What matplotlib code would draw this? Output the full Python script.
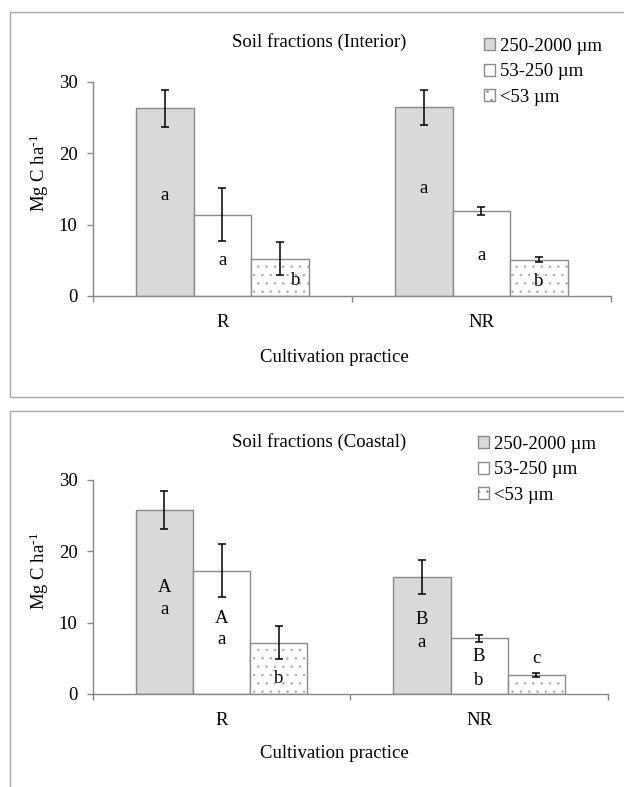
import matplotlib
matplotlib.use("Agg")
import matplotlib.pyplot as plt
import numpy as np
from matplotlib.patches import Rectangle, Patch

plt.rcParams['font.family'] = ['Liberation Serif', 'DejaVu Serif']
plt.rcParams['mathtext.fontset'] = 'custom'
plt.rcParams['mathtext.rm'] = 'Liberation Serif'
plt.rcParams['mathtext.it'] = 'Liberation Serif:italic'
plt.rcParams['hatch.linewidth'] = 0.5

# ---------------- data ----------------
categories = ["R", "NR"]
series = ["250-2000 µm", "53-250 µm", "<53 µm"]

interior_values = [[26.3, 26.4], [11.4, 11.9], [5.2, 5.1]]
interior_errors = [[2.6, 2.5], [3.75, 0.55], [2.3, 0.3]]
coastal_values = [[25.8, 16.4], [17.3, 7.8], [7.2, 2.7]]
coastal_errors = [[2.6, 2.45], [3.75, 0.5], [2.3, 0.25]]

# significance letters: (series index, category index, text, y, x offset in bar widths)
interior_letters = [
    (0, 0, "a", 14.1, 0.0), (1, 0, "a", 5.0, 0.0), (2, 0, "b", 2.2, 0.28),
    (0, 1, "a", 15.0, 0.0), (1, 1, "a", 5.7, 0.0), (2, 1, "b", 2.0, 0.0),
]
coastal_letters = [
    (0, 0, "A", 15.0, 0.0), (0, 0, "a", 11.9, 0.0),
    (1, 0, "A", 10.6, 0.0), (1, 0, "a", 7.6, 0.0),
    (2, 0, "b", 2.2, 0.0),
    (0, 1, "B", 10.5, 0.0), (0, 1, "a", 7.2, 0.0),
    (1, 1, "B", 5.2, 0.0), (1, 1, "b", 1.9, 0.0),
    (2, 1, "c", 5.0, 0.0),
]

titles = ["Soil fractions (Interior)", "Soil fractions (Coastal)"]
xlabel = "Cultivation practice"
ylabel = "Mg C ha$^{\u2010\\mathrm{1}}$"
yticks = [0, 10, 20, 30]

# ---------------- style ----------------
W, H = 624, 787
FS = 13.5
fills = ["#d9d9d9", "white", "white"]
hatches = [None, None, ".."]
edge = "#8a8a8a"
dot_col = "#a8a8a8"
axis_col = "#868686"
bar_w = 0.222

fig = plt.figure(figsize=(W / 100, H / 100), dpi=100)


def fx(px):
    return px / W


def fy(py):
    return 1 - py / H


# panel frames
fig.add_artist(Rectangle((fx(10), fy(397)), fx(700), (397 - 12) / H,
                         transform=fig.transFigure, fill=False,
                         edgecolor="#a6a6a6", linewidth=1.0))
fig.add_artist(Rectangle((fx(10), fy(900)), fx(700), (900 - 411) / H,
                         transform=fig.transFigure, fill=False,
                         edgecolor="#a6a6a6", linewidth=1.0))

panels = [
    dict(vals=interior_values, errs=interior_errors, letters=interior_letters,
         title=titles[0], ax_px=(92.7, 81.7, 611, 296), title_xy=(319, 42),
         xlabel_y=357, leg_top=38, leg_x=484),
    dict(vals=coastal_values, errs=coastal_errors, letters=coastal_letters,
         title=titles[1], ax_px=(92.7, 480, 608, 694), title_xy=(319, 442),
         xlabel_y=754, leg_top=436, leg_x=478),
]

x = np.arange(len(categories))
for p in panels:
    l, t, r, b = p["ax_px"]
    ax = fig.add_axes([fx(l), fy(b), (r - l) / W, (b - t) / H])
    for i, name in enumerate(series):
        pos = x + (i - 1) * bar_w
        if hatches[i]:
            # light dot pattern, then a darker outline on top
            ax.bar(pos, p["vals"][i], width=bar_w, color=fills[i],
                   edgecolor=dot_col, linewidth=0, hatch=hatches[i], zorder=2)
            ax.bar(pos, p["vals"][i], width=bar_w, fill=False,
                   edgecolor=edge, linewidth=1.0, zorder=2.1)
        else:
            ax.bar(pos, p["vals"][i], width=bar_w, color=fills[i],
                   edgecolor=edge, linewidth=1.0, zorder=2)
        ax.errorbar(pos, p["vals"][i], yerr=p["errs"][i], fmt="none",
                    ecolor="black", elinewidth=1.1, capsize=3, capthick=1.1,
                    zorder=3)
    for (si, ci, txt, yv, off) in p["letters"]:
        ax.text(x[ci] + (si - 1) * bar_w + off * bar_w, yv, txt,
                ha="center", va="center", fontsize=FS, zorder=4)

    ax.set_xlim(-0.5, len(categories) - 0.5)
    ax.set_ylim(0, 30)
    ax.set_yticks(yticks)
    ax.set_yticklabels([str(v) for v in yticks], fontsize=FS)
    ax.set_xticks(np.arange(len(categories) + 1) - 0.5)
    ax.set_xticklabels([])
    ax.set_xticks(x, minor=True)
    ax.set_xticklabels(categories, minor=True, fontsize=FS)
    ax.tick_params(axis="x", which="minor", length=0, pad=13)
    ax.tick_params(axis="x", which="major", length=4, color=axis_col, width=1)
    ax.tick_params(axis="y", length=4, color=axis_col, width=1, pad=7)
    for s in ["top", "right"]:
        ax.spines[s].set_visible(False)
    for s in ["left", "bottom"]:
        ax.spines[s].set_color(axis_col)
        ax.spines[s].set_linewidth(1.0)
        ax.spines[s].set_zorder(2.5)
    ax.patch.set_alpha(0)

    # y label
    ax.text(fx(39), fy((t + b) / 2 - 16), ylabel, rotation=90, ha="center",
            va="center", fontsize=FS, transform=fig.transFigure)
    # title
    fig.text(fx(p["title_xy"][0]), fy(p["title_xy"][1]), p["title"],
             ha="center", va="center", fontsize=FS)
    # x label
    fig.text(fx(334), fy(p["xlabel_y"]), xlabel, ha="center", va="center",
             fontsize=FS)

    handles = [Patch(facecolor=fills[i], edgecolor=edge, hatch=hatches[i],
                     linewidth=1.0) for i in range(len(series))]
    ax.legend(handles, series, loc="upper left",
              bbox_to_anchor=(fx(p["leg_x"]), fy(p["leg_top"])),
              bbox_transform=fig.transFigure, frameon=False, fontsize=FS,
              handlelength=0.6, handleheight=0.6, handletextpad=0.25,
              labelspacing=0.45, borderpad=0, borderaxespad=0)

fig.savefig("out.png", dpi=100)
